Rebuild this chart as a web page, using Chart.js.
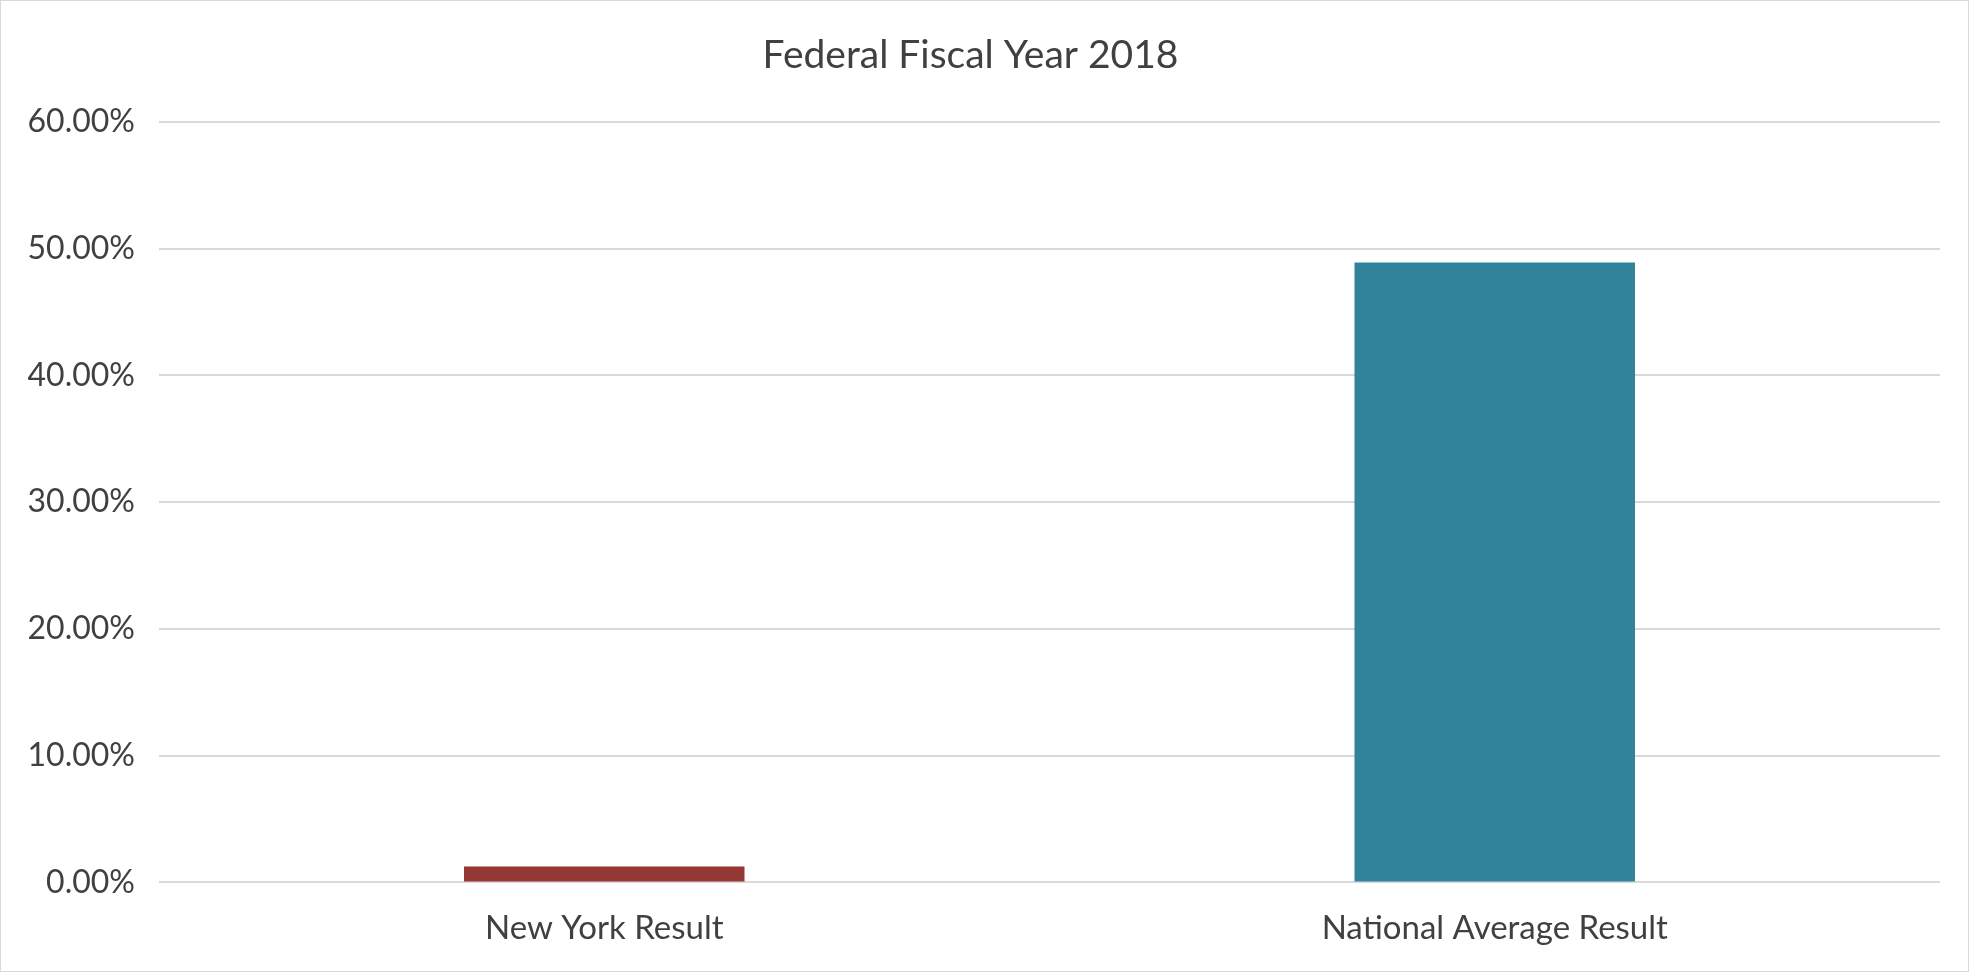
<!DOCTYPE html>
<html>
<head>
<meta charset="utf-8">
<script src="https://cdn.jsdelivr.net/npm/chart.js@4"></script>
<style>
  html, body { margin: 0; padding: 0; background: #fff; }
  #wrap { width: 1967px; height: 970px; border: 1px solid #d9d9d9; }
</style>
</head>
<body>
<div id="wrap"><canvas id="grafico"></canvas></div>
<script>
const categorias = ["New York Result", "National Average Result"];
const valores = [1.26, 48.9];
const colores = ["#953735", "#31839b"];
const titulo = "Federal Fiscal Year 2018";

const fuente = "Lato, 'Open Sans', sans-serif";

const ctx = document.querySelector("#grafico").getContext("2d");
new Chart(ctx, {
    type: "bar",
    data: {
        labels: categorias,
        datasets: [
            {
                data: valores,
                backgroundColor: colores,
                borderWidth: 0,
                categoryPercentage: 1,
                barPercentage: 0.315,
            },
        ],
    },
    options: {
        responsive: true,
        maintainAspectRatio: false,
        animation: false,
        layout: { padding: { left: 0, right: 28, top: 10, bottom: 5 } },
        plugins: {
            legend: { display: false },
            tooltip: { enabled: false },
            title: {
                display: true,
                text: titulo,
                color: "#404040",
                font: { family: fuente, size: 39, weight: "normal" },
                padding: { top: 21, bottom: 43 },
            },
        },
        scales: {
            x: {
                grid: { display: false },
                border: { display: false },
                ticks: {
                    color: "#404040",
                    font: { family: fuente, size: 33 },
                    padding: 18,
                },
            },
            y: {
                min: 0,
                max: 60,
                afterFit: (escala) => { escala.width = 158; },
                grid: { color: "#d9d9d9", lineWidth: 2, drawTicks: false },
                border: { display: false },
                ticks: {
                    stepSize: 10,
                    color: "#404040",
                    font: { family: fuente, size: 32 },
                    padding: 24,
                    callback: (v) => v.toFixed(2) + "%",
                },
            },
        },
    },
});
</script>
</body>
</html>
